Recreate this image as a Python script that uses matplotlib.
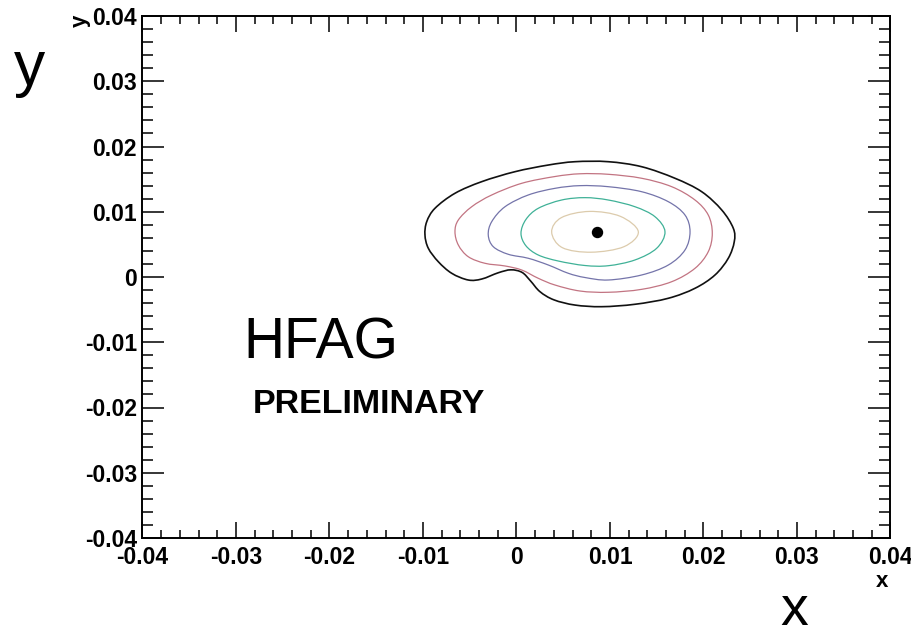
import numpy as np
import matplotlib
matplotlib.use("Agg")
import matplotlib.pyplot as plt
from matplotlib.path import Path
from matplotlib.patches import PathPatch
from matplotlib.ticker import MultipleLocator

plt.rcParams["font.family"] = ["Liberation Sans", "DejaVu Sans"]

# Best-fit point
best_x = [0.00858]
best_y = [0.00694]

# Likelihood contours, outermost first (x, y vertices going round each curve)
c1_x = [-0.00979, -0.00960, -0.00872, -0.00658, -0.00372, -0.00016, 0.00340, 0.00626,
        0.00982, 0.01339, 0.01695, 0.01981, 0.02195, 0.02319, 0.02329, 0.02265,
        0.02123, 0.01909, 0.01624, 0.01267, 0.00911, 0.00626, 0.00400,
        0.00251, 0.00150, 0.00060, -0.00060, -0.00195, -0.00372, -0.00516, -0.00693,
        -0.00836, -0.00943]
c1_y = [0.00644, 0.00848, 0.01053, 0.01283, 0.01461, 0.01614, 0.01716, 0.01767,
        0.01767, 0.01690, 0.01513, 0.01307, 0.01027, 0.00746, 0.00541, 0.00287,
        0.00031, -0.00173, -0.00326, -0.00418, -0.00455, -0.00430, -0.00350,
        -0.00225, -0.00060, 0.00070, 0.00110, 0.00065, -0.00031, -0.00046, 0.00057,
        0.00234, 0.00440]

c2_x = [-0.00658, -0.00622, -0.00479, -0.00265, 0.00056, 0.00412, 0.00680, 0.00982,
        0.01339, 0.01660, 0.01909, 0.02051, 0.02094, 0.02051, 0.01909, 0.01660,
        0.01339, 0.00982, 0.00680, 0.00412, 0.00233, 0.00056, -0.00123, -0.00337,
        -0.00516, -0.00622]
c2_y = [0.00694, 0.00874, 0.01077, 0.01257, 0.01436, 0.01540, 0.01582, 0.01574,
        0.01513, 0.01384, 0.01180, 0.00950, 0.00670, 0.00388, 0.00133, -0.00072,
        -0.00189, -0.00234, -0.00215, -0.00123, -0.00020, 0.00107, 0.00169, 0.00210,
        0.00311, 0.00490]

c3_x = [-0.00302, -0.00265, -0.00123, 0.00126, 0.00412, 0.00680, 0.00982, 0.01339,
        0.01624, 0.01802, 0.01856, 0.01802, 0.01624, 0.01339, 0.00982, 0.00733,
        0.00554, 0.00340, 0.00126, -0.00088, -0.00248]
c3_y = [0.00644, 0.00848, 0.01077, 0.01257, 0.01359, 0.01400, 0.01384, 0.01307,
        0.01154, 0.00950, 0.00694, 0.00414, 0.00184, 0.00031, -0.00046, -0.00008,
        0.00057, 0.00184, 0.00287, 0.00348, 0.00464]

c4_x = [0.00048, 0.00100, 0.00233, 0.00483, 0.00733, 0.00982, 0.01267, 0.01481,
        0.01588, 0.01499, 0.01267, 0.00982, 0.00733, 0.00447, 0.00233, 0.00100]
c4_y = [0.00670, 0.00880, 0.01053, 0.01180, 0.01216, 0.01180, 0.01077, 0.00924,
        0.00694, 0.00440, 0.00261, 0.00173, 0.00176, 0.00245, 0.00337, 0.00480]

c5_x = [0.00376, 0.00480, 0.00780, 0.01110, 0.01303, 0.01150, 0.00800, 0.00490]
c5_y = [0.00690, 0.00910, 0.01005, 0.00930, 0.00694, 0.00465, 0.00380, 0.00450]

contour_colors = ["#111111", "#c27482", "#7474aa", "#3fb197", "#dccbac"]
contour_widths = [1.2, 0.9, 0.9, 0.9, 0.9]

tick_values = [-0.04, -0.03, -0.02, -0.01, 0.0, 0.01, 0.02, 0.03, 0.04]
tick_labels = ["-0.04", "-0.03", "-0.02", "-0.01", "0", "0.01", "0.02", "0.03", "0.04"]


def closed_smooth_path(xs, ys):
    """Closed Catmull-Rom curve through the given vertices as cubic Beziers."""
    pts = np.column_stack([xs, ys])
    n = len(pts)
    verts = [pts[0]]
    codes = [Path.MOVETO]
    for i in range(n):
        p0, p1 = pts[i - 1], pts[i]
        p2, p3 = pts[(i + 1) % n], pts[(i + 2) % n]
        verts += [p1 + (p2 - p0) / 6.0, p2 - (p3 - p1) / 6.0, p2]
        codes += [Path.CURVE4] * 3
    return Path(verts, codes)


W, H = 912, 637
fig = plt.figure(figsize=(W / 100, H / 100), dpi=100)
ax = fig.add_axes([142.5 / W, 1 - 538 / H, 748 / W, 522 / H])

for (cx, cy), col, lw in zip(
        [(c1_x, c1_y), (c2_x, c2_y), (c3_x, c3_y), (c4_x, c4_y), (c5_x, c5_y)],
        contour_colors, contour_widths):
    ax.add_patch(PathPatch(closed_smooth_path(cx, cy), fill=False,
                           edgecolor=col, linewidth=lw))

ax.plot(best_x, best_y, "o", color="black", markersize=7.2)

ax.set_xlim(-0.04, 0.04)
ax.set_ylim(-0.04, 0.04)
ax.set_xticks(tick_values)
ax.set_yticks(tick_values)
ax.set_xticklabels(tick_labels, fontweight="bold", fontsize=16.5)
ax.set_yticklabels(tick_labels, fontweight="bold", fontsize=16.5)
ax.xaxis.set_minor_locator(MultipleLocator(0.002))
ax.yaxis.set_minor_locator(MultipleLocator(0.002))

ax.tick_params(axis="x", which="major", direction="in", length=11.5, width=1.1,
               top=True, bottom=True, pad=6)
ax.tick_params(axis="x", which="minor", direction="in", length=5.8, width=1.1,
               top=True, bottom=True)
ax.tick_params(axis="y", which="major", direction="in", length=16, width=1.1,
               left=True, right=True, pad=4)
ax.tick_params(axis="y", which="minor", direction="in", length=8, width=1.1,
               left=True, right=True)
for sp in ax.spines.values():
    sp.set_linewidth(1.4)

# Axis titles at the axis ends
fig.text(888 / W, 1 - 587 / H, "x", ha="right", va="baseline",
         fontweight="bold", fontsize=16)
fig.text(80.5 / W, 1 - 15 / H, "y", ha="center", va="top", rotation=90,
         fontweight="bold", fontsize=16)

# Large variable names
fig.text(30 / W, 1 - 85 / H, "y", ha="center", va="baseline", fontsize=45)
fig.text(794.5 / W, 1 - 625 / H, "x", ha="center", va="baseline", fontsize=40)

ax.text(-0.02925, -0.01246, "HFAG", ha="left", va="baseline", fontsize=41)
ax.text(-0.02824, -0.02089, "PRELIMINARY", ha="left", va="baseline",
        fontsize=24.5, fontweight="bold")

fig.savefig("out.png", dpi=100)
